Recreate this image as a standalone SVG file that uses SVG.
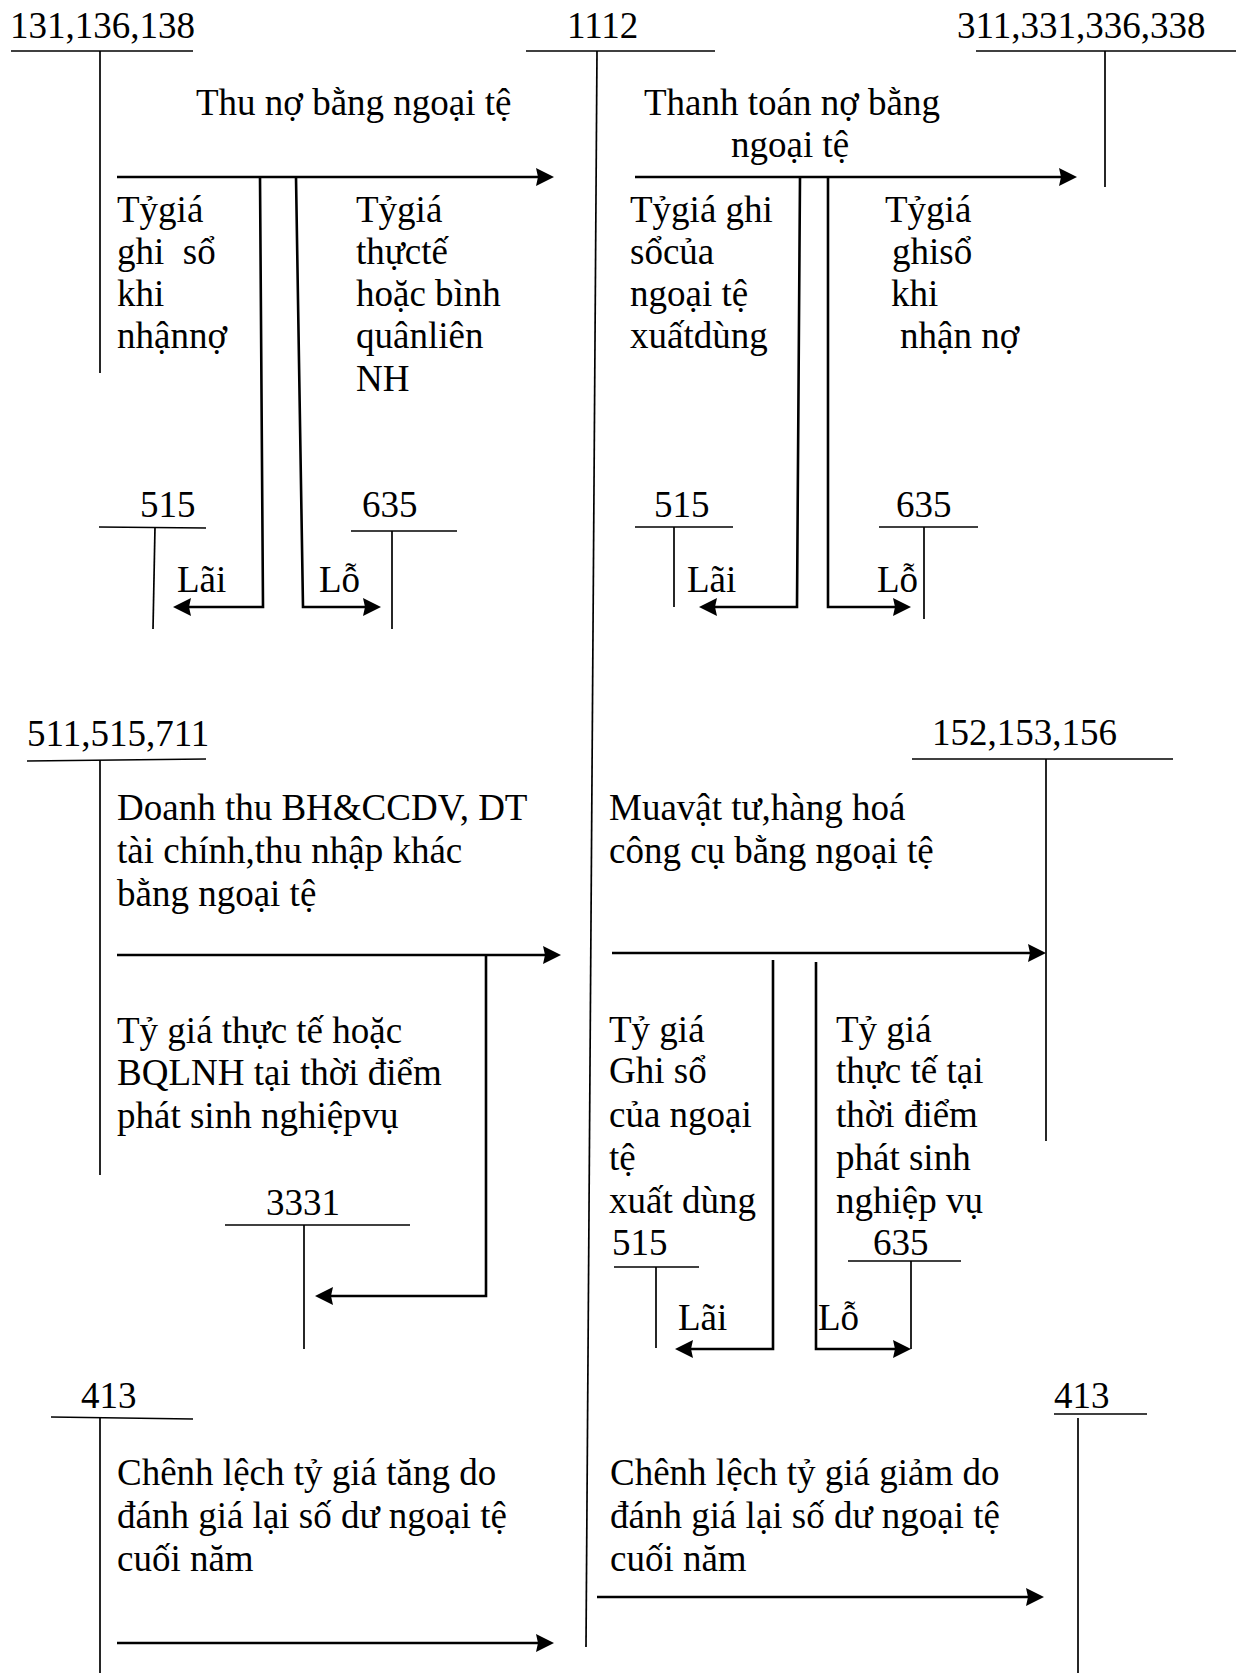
<svg xmlns="http://www.w3.org/2000/svg" width="1241" height="1673" viewBox="0 0 1241 1673">
<style>
text{font-family:"Liberation Serif","Times New Roman",serif;font-size:37px;fill:#000;white-space:pre}
.t{stroke:#000;stroke-width:1.7;fill:none}
.a{stroke:#000;stroke-width:2.6;fill:none;marker-end:url(#ah)}
</style>
<defs>
<marker id="ah" markerUnits="userSpaceOnUse" markerWidth="20" markerHeight="20" refX="9" refY="9" orient="auto">
<path d="M0,0 L18,9 L0,18 L2,9 z" fill="#000"/>
</marker>
</defs>
<rect width="1241" height="1673" fill="#fff"/>

<g id="acc131">
<text x="10" y="38">131,136,138</text>
<line class="t" x1="11" y1="51" x2="193" y2="51"/>
<line class="t" x1="100" y1="51" x2="100" y2="373"/>
</g>
<g id="acc1112">
<text x="567" y="38">1112</text>
<line class="t" x1="526" y1="51" x2="715" y2="51"/>
<line class="t" x1="597" y1="51" x2="586" y2="1647"/>
</g>
<g id="acc311">
<text x="957" y="38">311,331,336,338</text>
<line class="t" x1="976" y1="51" x2="1236" y2="51"/>
<line class="t" x1="1105" y1="51" x2="1105" y2="187"/>
</g>
<g id="acc515a">
<text x="140" y="517">515</text>
<line class="t" x1="99" y1="527" x2="206" y2="528"/>
<line class="t" x1="155" y1="527" x2="153" y2="629"/>
</g>
<g id="acc635a">
<text x="362" y="517">635</text>
<line class="t" x1="351" y1="531" x2="457" y2="531"/>
<line class="t" x1="392" y1="531" x2="392" y2="629"/>
</g>
<g id="acc515b">
<text x="654" y="517">515</text>
<line class="t" x1="635" y1="527" x2="733" y2="527"/>
<line class="t" x1="674" y1="527" x2="674" y2="607"/>
</g>
<g id="acc635b">
<text x="896" y="517">635</text>
<line class="t" x1="879" y1="527" x2="978" y2="527"/>
<line class="t" x1="924" y1="527" x2="924" y2="619"/>
</g>
<g id="acc511">
<text x="27" y="746">511,515,711</text>
<line class="t" x1="27" y1="761" x2="206" y2="759"/>
<line class="t" x1="100" y1="760" x2="100" y2="1175"/>
</g>
<g id="acc3331">
<text x="266" y="1215">3331</text>
<line class="t" x1="225" y1="1225" x2="410" y2="1225"/>
<line class="t" x1="304" y1="1225" x2="304" y2="1349"/>
</g>
<g id="acc152">
<text x="932" y="745">152,153,156</text>
<line class="t" x1="912" y1="759" x2="1173" y2="759"/>
<line class="t" x1="1046" y1="759" x2="1046" y2="1141"/>
</g>
<g id="acc515c">
<text x="612" y="1255">515</text>
<line class="t" x1="614" y1="1267" x2="699" y2="1267"/>
<line class="t" x1="656" y1="1267" x2="656" y2="1348"/>
</g>
<g id="acc635c">
<text x="873" y="1255">635</text>
<line class="t" x1="848" y1="1261" x2="961" y2="1261"/>
<line class="t" x1="911" y1="1261" x2="911" y2="1349"/>
</g>
<g id="acc413a">
<text x="81" y="1408">413</text>
<line class="t" x1="51" y1="1417" x2="193" y2="1419"/>
<line class="t" x1="100" y1="1418" x2="100" y2="1673"/>
</g>
<g id="acc413b">
<text x="1054" y="1408">413</text>
<line class="t" x1="1054" y1="1414" x2="1147" y2="1414"/>
<line class="t" x1="1078" y1="1418" x2="1078" y2="1673"/>
</g>

<g id="labels">
<text x="196" y="115">Thu nợ bằng ngoại tệ</text>
<text x="117" y="222">Tỷgiá</text>
<text x="117" y="264">ghi  sổ</text>
<text x="117" y="306">khi</text>
<text x="117" y="348">nhậnnợ</text>
<text x="356" y="222">Tỷgiá</text>
<text x="356" y="264">thựctế</text>
<text x="356" y="306">hoặc bình</text>
<text x="356" y="348">quânliên</text>
<text x="356" y="391">NH</text>
<text x="177" y="592">Lãi</text>
<text x="319" y="592">Lỗ</text>

<text x="644" y="115">Thanh toán nợ bằng</text>
<text x="731" y="157">ngoại tệ</text>
<text x="630" y="222">Tỷgiá ghi</text>
<text x="630" y="264">sổcủa</text>
<text x="630" y="306">ngoại tệ</text>
<text x="630" y="348">xuấtdùng</text>
<text x="885" y="222">Tỷgiá</text>
<text x="892" y="264">ghisổ</text>
<text x="891" y="306">khi</text>
<text x="900" y="348">nhận nợ</text>
<text x="687" y="592">Lãi</text>
<text x="877" y="592">Lỗ</text>

<text x="117" y="820">Doanh thu BH&amp;CCDV, DT</text>
<text x="117" y="863">tài chính,thu nhập khác</text>
<text x="117" y="906">bằng ngoại tệ</text>
<text x="117" y="1043">Tỷ giá thực tế hoặc</text>
<text x="117" y="1085">BQLNH tại thời điểm</text>
<text x="117" y="1128">phát sinh nghiệpvụ</text>

<text x="609" y="820">Muavật tư,hàng hoá</text>
<text x="609" y="863">công cụ bằng ngoại tệ</text>
<text x="609" y="1042">Tỷ giá</text>
<text x="609" y="1083">Ghi sổ</text>
<text x="609" y="1127">của ngoại</text>
<text x="609" y="1170">tệ</text>
<text x="609" y="1213">xuất dùng</text>
<text x="836" y="1042">Tỷ giá</text>
<text x="836" y="1083">thực tế tại</text>
<text x="836" y="1127">thời điểm</text>
<text x="836" y="1170">phát sinh</text>
<text x="836" y="1213">nghiệp vụ</text>
<text x="678" y="1330">Lãi</text>
<text x="818" y="1330">Lỗ</text>

<text x="117" y="1485">Chênh lệch tỷ giá tăng do</text>
<text x="117" y="1528">đánh giá lại số dư ngoại tệ</text>
<text x="117" y="1571">cuối năm</text>
<text x="610" y="1485">Chênh lệch tỷ giá giảm do</text>
<text x="610" y="1528">đánh giá lại số dư ngoại tệ</text>
<text x="610" y="1571">cuối năm</text>
</g>

<g id="connectors">
<line class="a" x1="117" y1="177" x2="545" y2="177"/>
<polyline class="a" points="260,177 263,607 182,607"/>
<polyline class="a" points="296,177 303,607 372,607"/>
<line class="a" x1="635" y1="177" x2="1068" y2="177"/>
<polyline class="a" points="800,177 797,607 708,607"/>
<polyline class="a" points="828,177 828,607 902,607"/>
<line class="a" x1="117" y1="955" x2="552" y2="955"/>
<polyline class="a" points="486,955 486,1296 324,1296"/>
<line class="a" x1="612" y1="953" x2="1037" y2="953"/>
<polyline class="a" points="773,960 773,1349 684,1349"/>
<polyline class="a" points="816,962 816,1349 902,1349"/>
<line class="a" x1="117" y1="1643" x2="545" y2="1643"/>
<line class="a" x1="597" y1="1597" x2="1035" y2="1597"/>
</g>
</svg>
